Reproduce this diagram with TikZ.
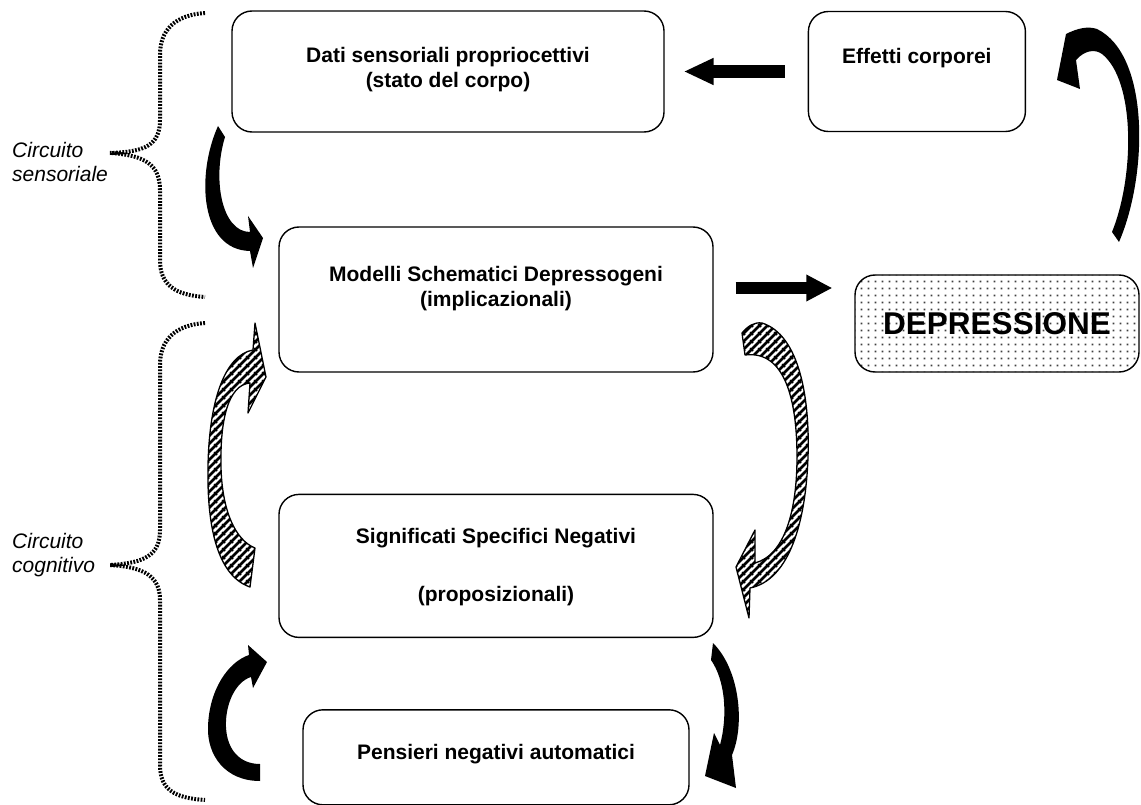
\documentclass[tikz,border=0pt]{standalone}
\usepackage{fontspec}
\setmainfont{Liberation Sans}
\usetikzlibrary{positioning, arrows.meta, calc, patterns.meta}

\tikzdeclarepattern{
  name=hatch,
  bounding box={(0pt,0pt) and (8pt,8pt)},
  tile size={(8pt,8pt)},
  code={
    \draw[line width=3pt] (-1pt,-1pt) -- (9pt,9pt)
      (-1pt,7pt) -- (1pt,9pt) (7pt,-1pt) -- (9pt,1pt);
  }
}
\tikzdeclarepattern{
  name=finedots,
  bounding box={(0pt,0pt) and (7.4pt,7.4pt)},
  tile size={(7.4pt,7.4pt)},
  code={\fill (2.7pt,2.7pt) rectangle (4.7pt,4.7pt);}
}

\tikzset{
  roundbox/.style={rectangle, rounded corners=20pt, draw=black, line width=1.4pt},
  boxtext/.style={inner sep=0pt, align=center, font=\fontsize{21}{25}\selectfont\bfseries},
  sidelabel/.style={inner sep=0pt, align=left, font=\fontsize{21}{24}\selectfont\itshape},
  blockarrow/.style={line width=13pt, -{Triangle[length=30pt, width=25pt]}},
  bentarrow/.style={fill=black},
  hatcharrow/.style={draw=black, line width=1.3pt, pattern=hatch, line join=round},
  bracket/.style={draw=black, line width=4pt, dash pattern=on 1.8pt off 1.4pt}
}

\begin{document}
\begin{tikzpicture}[x=1pt, y=-1pt]
    \useasboundingbox (0,0) rectangle (1141,805);

    % ── Boxes ──
    \node[roundbox, minimum width=432pt, minimum height=121pt]                    (dati)     at (448,71.5) {};
    \node[roundbox, minimum width=217pt, minimum height=120pt, right=143pt of dati] (effetti) {};
    \node[roundbox, minimum width=434pt, minimum height=145pt]                    (modelli)  at (496,299.5) {};
    \node[roundbox, minimum width=434pt, minimum height=143pt, below=121pt of modelli] (signif) {};
    \node[roundbox, minimum width=386pt, minimum height=95pt, below=71pt of signif]   (pensieri) {};
    \node[roundbox, pattern=finedots, pattern color=black!75, minimum width=284pt, minimum height=97pt,
          font=\fontsize{31.5}{36}\selectfont\bfseries]                           (depr)     at (997,323.5) {DEPRESSIONE};

    % ── Texts ──
    \node[boxtext, below=36.5pt of dati.north]     (datitxt)     {Dati sensoriali propriocettivi\\(stato del corpo)};
    \node[boxtext, below=37pt of effetti.north]    (effettitxt)  {Effetti corporei};
    \node[boxtext, below=39.5pt of modelli.north]  (modellitxt)  {Modelli Schematici Depressogeni\\(implicazionali)};
    \node[boxtext, below=34.5pt of signif.north]   (signiftxt)   {Significati Specifici Negativi\\[33pt](proposizionali)};
    \node[boxtext, below=34.5pt of pensieri.north] (pensieritxt) {Pensieri negativi automatici};

    \node[sidelabel, anchor=north west] (sensolbl) at (12,142) {Circuito\\sensoriale};
    \node[sidelabel, anchor=north west] (cognlbl)  at (12,533) {Circuito\\cognitivo};

    % ── Braces ──
    \draw[bracket] (205,13) .. controls (175,15) and (160,30) .. (160,55) -- (160,120)
        .. controls (160,145) and (145,152) .. (110,153) .. controls (145,155) and (160,165) .. (160,190)
        -- (160,260) .. controls (160,285) and (175,295) .. (205,297);
    \draw[bracket] (205,323) .. controls (175,325) and (160,340) .. (160,365) -- (160,530)
        .. controls (160,555) and (145,563) .. (110,565) .. controls (145,567) and (160,577) .. (160,600)
        -- (160,765) .. controls (160,790) and (175,798) .. (205,800);

    % ── Straight arrows ──
    \draw[blockarrow, shorten <=23pt, shorten >=19pt] (effetti.west) -- (effetti.west -| dati.east);
    \draw[blockarrow, line width=11pt, -{Triangle[length=26pt, width=25pt]}, shorten <=22pt, shorten >=22pt]
        ([yshift=11.5pt]modelli.east) -- ([yshift=11.5pt]modelli.east -| depr.west);

    % ── Curved arrows ──
    \fill[bentarrow] (218,126) .. controls (196,175) and (200,250) .. (250,251) -- (253,268) -- (263,238)
        -- (248,216) -- (250,232) .. controls (222,232) and (212,180) .. (225,137) -- cycle;
    \fill[bentarrow] (1119,242) .. controls (1148,175) and (1150,55) .. (1097,29)
        .. controls (1088,26) and (1078,28) .. (1066,34) -- (1057,80) -- (1080,89) -- (1076,60)
        .. controls (1085,50) and (1095,49) .. (1102,54) .. controls (1135,80) and (1135,175) .. (1112,232) -- cycle;
    \draw[hatcharrow] (250,587) .. controls (215,575) and (207,520) .. (208,467)
        .. controls (209,400) and (225,355) .. (253,350) -- (255,323) -- (266,377) -- (248,413) -- (250,383)
        .. controls (228,385) and (220,420) .. (221,467) .. controls (222,510) and (235,540) .. (255,548) -- cycle;
    \draw[hatcharrow] (742,333) .. controls (748,326) and (754,322) .. (762,323)
        .. controls (800,335) and (810,400) .. (808,457) .. controls (806,520) and (790,580) .. (750,588)
        -- (749,618) -- (736,567) -- (755,530) -- (755,563)
        .. controls (785,555) and (797,510) .. (797,457) .. controls (797,400) and (785,350) .. (745,355) -- cycle;
    \fill[bentarrow] (260,781) .. controls (225,781) and (207,755) .. (208,727)
        .. controls (209,690) and (228,662) .. (249,655) -- (248,645) -- (267,662) -- (253,688) -- (251,677)
        .. controls (235,682) and (225,705) .. (226,727) .. controls (227,750) and (240,764) .. (260,764) -- cycle;
    \fill[bentarrow] (713,643) .. controls (740,670) and (745,725) .. (732,755) -- (736,788) -- (705,776)
        -- (714,733) -- (720,745) .. controls (728,715) and (725,680) .. (711,660) -- cycle;

\end{tikzpicture}
\end{document}
